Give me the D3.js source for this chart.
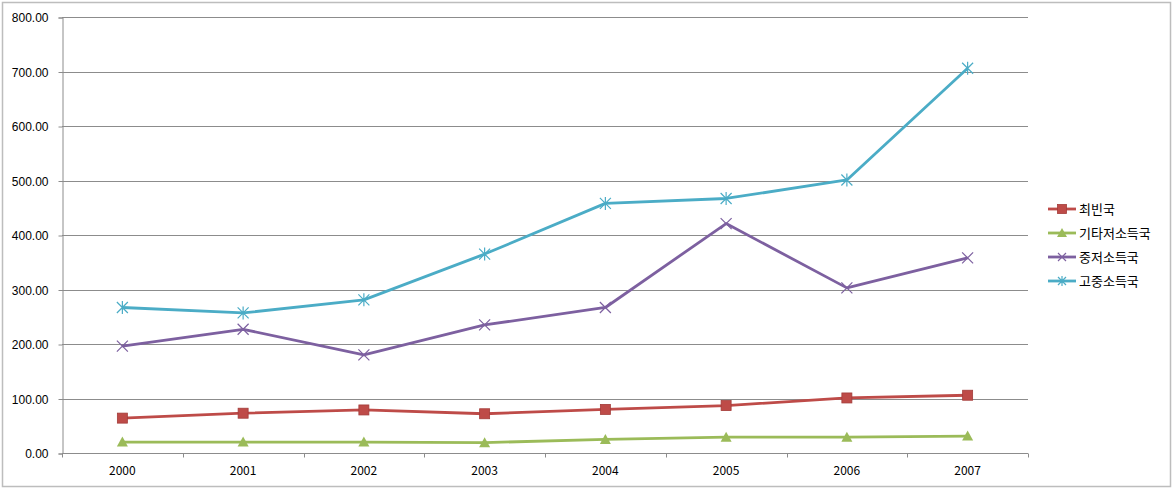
<!DOCTYPE html>
<html>
<head>
<meta charset="utf-8">
<script src="https://cdn.jsdelivr.net/npm/d3@7"></script>
<style>
  body { margin: 0; background: #fff; }
  svg { display: block; font-family: "Noto Sans CJK KR", "DejaVu Sans", sans-serif; }
</style>
</head>
<body>
<div id="chart"></div>
<script>
// data
var years = ["2000", "2001", "2002", "2003", "2004", "2005", "2006", "2007"];
var seriesNames = ["최빈국", "기타저소득국", "중저소득국", "고중소득국"];
var leastDeveloped = [64, 73, 79, 72, 80, 87, 101, 106];
var otherLowIncome = [20, 20, 20, 19, 25, 29, 29, 31];
var lowerMiddle = [196, 227, 180, 235, 267, 421, 303, 358];
var upperMiddle = [267, 257, 281, 365, 458, 467, 501, 706];
var yTicks = [0, 100, 200, 300, 400, 500, 600, 700, 800];

var colors = ["#BE4B48", "#9BBB59", "#7D60A0", "#4BACC6"];
var markers = ["square", "triangle", "x", "star"];
var allSeries = [leastDeveloped, otherLowIncome, lowerMiddle, upperMiddle];

var width = 1174, height = 490;
var plot = { left: 62, right: 1028, top: 17, bottom: 453 };

var svg = d3.select("#chart").append("svg")
    .attr("width", width)
    .attr("height", height);

// outer chart frame
svg.append("rect")
    .attr("x", 2.5).attr("y", 2.5)
    .attr("width", 1168).attr("height", 484)
    .attr("fill", "#fff")
    .attr("stroke", "#bdbdbd")
    .attr("stroke-width", 1.5);

var x = d3.scaleBand().domain(years).range([plot.left, plot.right]);
var y = d3.scaleLinear().domain([0, 800]).range([plot.bottom, plot.top]);

// gridlines
svg.append("g").selectAll("line")
    .data(yTicks.slice(1))
    .join("line")
    .attr("x1", plot.left).attr("x2", plot.right)
    .attr("y1", function(d) { return Math.round(y(d)) + 0.5; })
    .attr("y2", function(d) { return Math.round(y(d)) + 0.5; })
    .attr("stroke", "#8c8c8c")
    .attr("stroke-width", 1);

// y axis
var yAxis = svg.append("g")
    .attr("transform", "translate(" + (plot.left + 0.5) + ",0.5)")
    .call(d3.axisLeft(y).tickValues(yTicks).tickSize(4).tickPadding(4)
        .tickFormat(d3.format(".2f")));
yAxis.select(".domain").attr("stroke", "#8c8c8c");
yAxis.selectAll(".tick line").attr("stroke", "#8c8c8c");
yAxis.selectAll("text").attr("font-size", 12).attr("fill", "#000").attr("dy", "0.35em")
    .attr("x", -14);

// x axis: ticks between categories
var xAxisG = svg.append("g")
    .attr("transform", "translate(0," + (Math.round(plot.bottom) + 0.5) + ")");
xAxisG.append("line")
    .attr("x1", plot.left).attr("x2", plot.right)
    .attr("stroke", "#8c8c8c");
var boundaries = years.map(function(d) { return x(d); }).concat([plot.right]);
xAxisG.selectAll("line.tk")
    .data(boundaries)
    .join("line")
    .attr("class", "tk")
    .attr("x1", function(d) { return Math.round(d) + 0.5; })
    .attr("x2", function(d) { return Math.round(d) + 0.5; })
    .attr("y1", 0).attr("y2", 4)
    .attr("stroke", "#8c8c8c");
xAxisG.selectAll("text")
    .data(years)
    .join("text")
    .attr("x", function(d) { return x(d) + x.bandwidth() / 2; })
    .attr("y", 21)
    .attr("text-anchor", "middle")
    .attr("font-size", 12)
    .text(function(d) { return d; });

var line = d3.line()
    .x(function(d, i) { return x(years[i]) + x.bandwidth() / 2; })
    .y(function(d) { return y(d); });

function drawMarker(g, type, color, cx, cy, s) {
  if (type === "square") {
    g.append("rect")
      .attr("x", cx - s).attr("y", cy - s)
      .attr("width", 2 * s).attr("height", 2 * s)
      .attr("fill", color).attr("stroke", "#a33c39").attr("stroke-width", 0.8);
  } else if (type === "triangle") {
    g.append("path")
      .attr("d", "M" + cx + "," + (cy - s - 1) + "L" + (cx + s + 1) + "," + (cy + s) + "L" + (cx - s - 1) + "," + (cy + s) + "Z")
      .attr("fill", color);
  } else if (type === "x") {
    g.append("path")
      .attr("d", "M" + (cx - s) + "," + (cy - s) + "L" + (cx + s) + "," + (cy + s) +
                 "M" + (cx - s) + "," + (cy + s) + "L" + (cx + s) + "," + (cy - s))
      .attr("stroke", color).attr("stroke-width", 1.2).attr("fill", "none");
  } else {
    g.append("path")
      .attr("d", "M" + (cx - s) + "," + (cy - s) + "L" + (cx + s) + "," + (cy + s) +
                 "M" + (cx - s) + "," + (cy + s) + "L" + (cx + s) + "," + (cy - s) +
                 "M" + cx + "," + (cy - s - 1) + "L" + cx + "," + (cy + s + 1))
      .attr("stroke", color).attr("stroke-width", 1.2).attr("fill", "none");
  }
}

var markerSize = [5, 4.5, 5.5, 5.5];

allSeries.forEach(function(vals, k) {
  var g = svg.append("g");
  g.append("path")
    .datum(vals)
    .attr("d", line)
    .attr("fill", "none")
    .attr("stroke", colors[k])
    .attr("stroke-width", 2.8)
    .attr("stroke-linejoin", "round");
  vals.forEach(function(v, i) {
    drawMarker(g, markers[k], colors[k], x(years[i]) + x.bandwidth() / 2, y(v), markerSize[k]);
  });
});

// legend
var legend = svg.append("g").attr("transform", "translate(1048,209)");
seriesNames.forEach(function(name, k) {
  var row = legend.append("g").attr("transform", "translate(0," + (k * 24) + ")");
  row.append("line")
    .attr("x1", 0).attr("x2", 28)
    .attr("stroke", colors[k]).attr("stroke-width", 2.8);
  drawMarker(row, markers[k], colors[k], 14, 0, k === 0 ? 4.5 : 4);
  row.append("text")
    .attr("x", 31).attr("y", 0).attr("dy", "0.35em")
    .attr("font-size", 13)
    .text(name);
});
</script>
</body>
</html>
